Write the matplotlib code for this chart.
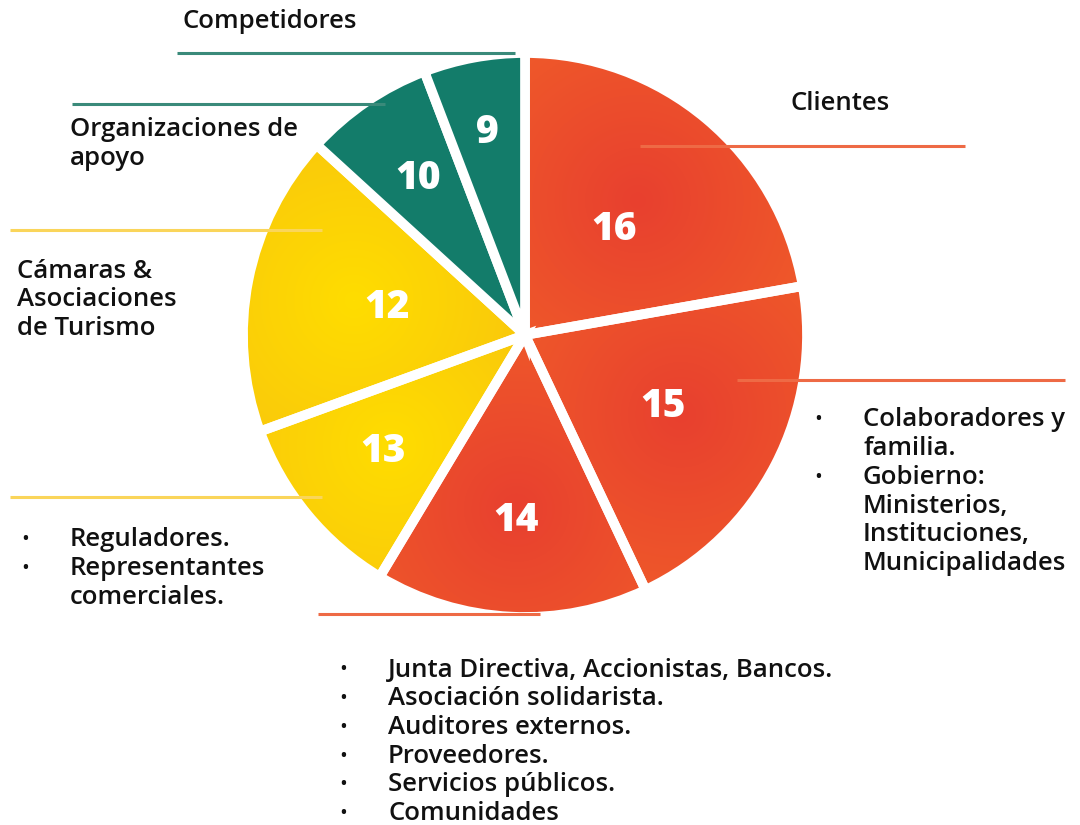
import numpy as np
import matplotlib
matplotlib.use("Agg")
from matplotlib import pyplot as plt
from matplotlib.colors import LinearSegmentedColormap

plt.rcParams["font.family"] = ["Open Sans", "DejaVu Sans"]

# Data
values = [16, 15, 14, 13, 12, 10, 9]
# wedge widths in degrees (the slices are not drawn proportional to the values)
shares = [80.0, 74.7, 56.3, 39.0, 62.4, 26.7, 20.9]
groups = ["red", "red", "red", "yellow", "yellow", "teal", "teal"]
label_dist = [0.49, 0.55, 0.66, 0.65, 0.50, 0.67, 0.73]

palette = {
    "red": ("#E8402F", "#F05C29"),
    "yellow": ("#FFDD00", "#F8C40E"),
    "teal": ("#137C6A", "#137C6A"),
}
line_col = {"red": "#EE6A45", "yellow": "#FAD55A", "teal": "#3A8A7A"}

W, H = 1080, 825
cx, cy, R = 525, 335, 282

fig = plt.figure(figsize=(10.8, 8.25), dpi=100)
ax = fig.add_axes([0, 0, 1, 1])

wedges, _ = ax.pie(shares, startangle=90, counterclock=False,
                   center=(cx, H - cy), radius=R,
                   wedgeprops=dict(edgecolor="white", linewidth=7))

# radial gradient fill clipped to each wedge
gx, gy = np.meshgrid(np.arange(cx - R, cx + R), np.arange(H - cy - R, H - cy + R))
ang0 = 90
for w, s, g in zip(wedges, shares, groups):
    mid = np.deg2rad(ang0 - s / 2)
    ang0 -= s
    inner, outer = palette[g]
    w.set_zorder(3)
    if inner == outer:
        w.set_facecolor(outer)
        continue
    px = cx + 0.62 * R * np.cos(mid)
    py = H - cy + 0.62 * R * np.sin(mid)
    d = np.hypot(gx - px, gy - py) / (0.75 * R)
    cmap = LinearSegmentedColormap.from_list(g, [inner, outer])
    im = ax.imshow(np.clip(d, 0, 1), cmap=cmap, vmin=0, vmax=1, origin="lower",
                   extent=(cx - R, cx + R, H - cy - R, H - cy + R), zorder=2)
    im.set_clip_path(w)
    w.set_facecolor("none")

# value labels
ang0 = 90
for v, s, f in zip(values, shares, label_dist):
    mid = np.deg2rad(ang0 - s / 2)
    ang0 -= s
    ax.text(cx + f * R * np.cos(mid), H - cy + f * R * np.sin(mid), str(v),
            color="white", fontsize=28, fontweight="heavy",
            ha="center", va="center", zorder=5)

# leader lines (x0, x1, y, group)
leaders = [
    (177, 515, 53, "teal"),
    (72, 385, 104, "teal"),
    (10, 322, 230, "yellow"),
    (10, 322, 497, "yellow"),
    (318, 540, 614, "red"),
    (640, 965, 146, "red"),
    (737, 1065, 380, "red"),
]
for x0, x1, y, g in leaders:
    ax.plot([x0, x1], [H - y, H - y], color=line_col[g], lw=2.2, zorder=4,
            solid_capstyle="butt")

TXT = dict(fontsize=18.5, fontweight="semibold", color="#111111", va="center")
step = 28.7


def block(x, y, lines, bullets=None, bx=None):
    for i, t in enumerate(lines):
        ax.text(x, H - (y + i * step), t, **TXT)
    if bullets:
        for i in bullets:
            ax.text(bx, H - (y + i * step), "•", fontsize=15, color="#111111",
                    va="center", ha="center")


block(183, 21, ["Competidores"])
block(70, 130, ["Organizaciones de", "apoyo"])
block(17, 271, ["Cámaras &", "Asociaciones", "de Turismo"])
block(790, 104, ["Clientes"])
block(863, 420, ["Colaboradores y", "familia.", "Gobierno:", "Ministerios,",
                 "Instituciones,", "Municipalidades"], bullets=[0, 2], bx=818)
block(70, 540, ["Reguladores.", "Representantes", "comerciales."],
      bullets=[0, 1], bx=25)
block(388, 670, ["Junta Directiva, Accionistas, Bancos.", "Asociación solidarista.",
                 "Auditores externos.", "Proveedores.", "Servicios públicos.",
                 "Comunidades"], bullets=[0, 1, 2, 3, 4, 5], bx=343)

ax.set_xlim(0, W)
ax.set_ylim(0, H)
ax.set_aspect("auto")
ax.axis("off")

fig.savefig("out.png", dpi=100, facecolor="white")
